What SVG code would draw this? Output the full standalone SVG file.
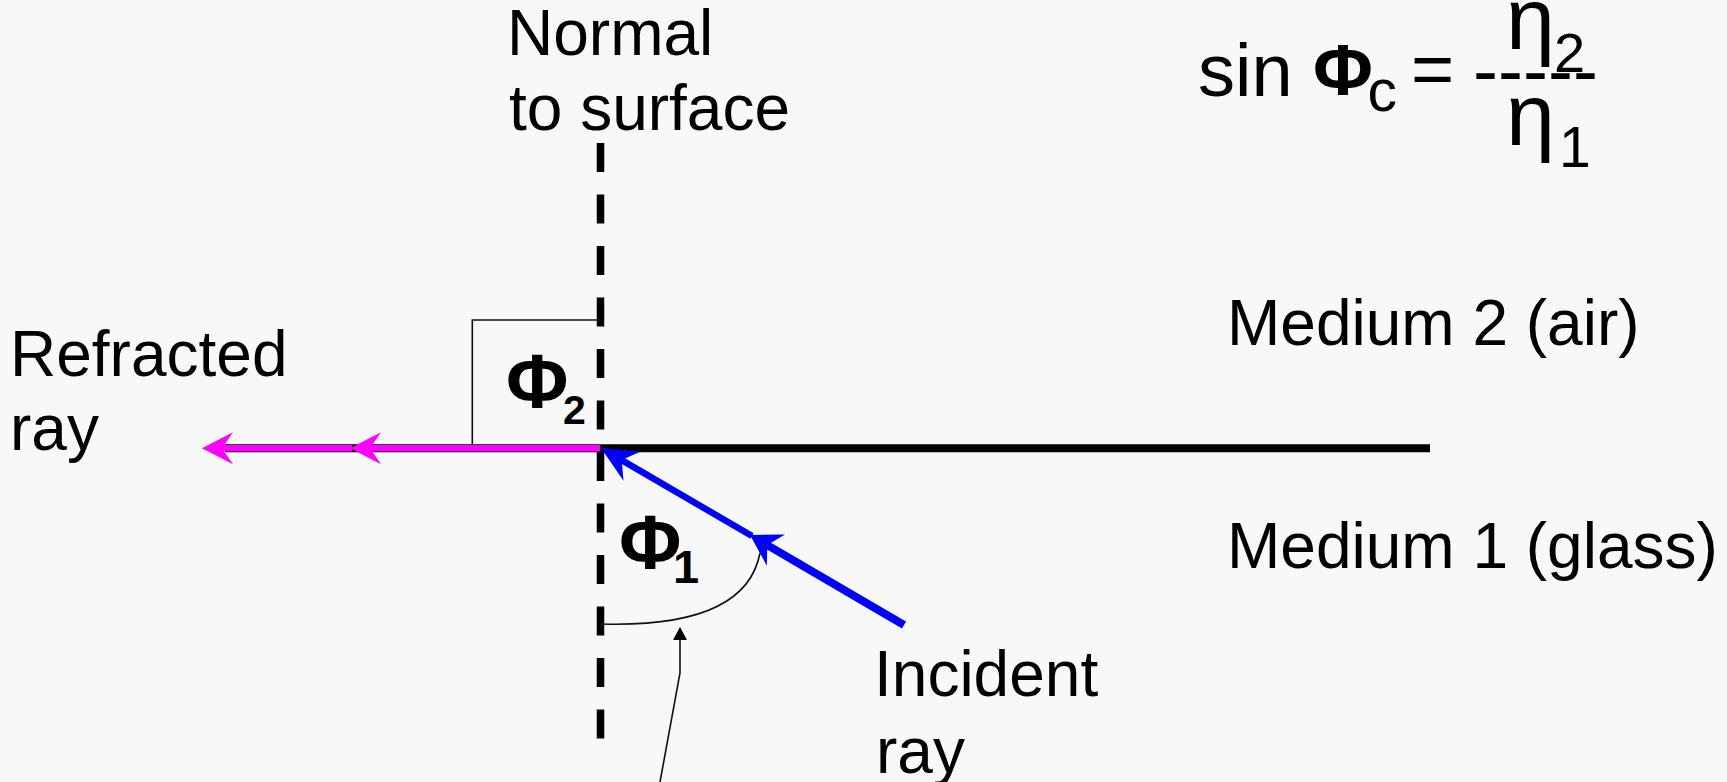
<svg xmlns="http://www.w3.org/2000/svg" width="1727" height="782" viewBox="0 0 1727 782">
<style>
.t{font-family:"Liberation Sans",Arial,sans-serif;fill:#000}
.lbl{font-size:64px}
.b{font-weight:bold}
.thin{fill:none;stroke:#111;stroke-width:1.6}
</style>
<defs>
<marker id="pinkHead" markerUnits="userSpaceOnUse" markerWidth="80" markerHeight="80" refX="0" refY="0" orient="auto" overflow="visible">
<path d="M20,0 L-11,-16 L0,0 L-11,16 Z" fill="#ff00ff"/>
</marker>
<marker id="blueHeadEnd" markerUnits="userSpaceOnUse" markerWidth="80" markerHeight="80" refX="0" refY="0" orient="auto" overflow="visible">
<path d="M24,0 L-12,-17 L0,0 L-12,17 Z" fill="#0000ff"/>
</marker>
<marker id="blueHeadMid" markerUnits="userSpaceOnUse" markerWidth="80" markerHeight="80" refX="0" refY="0" orient="auto" overflow="visible">
<path d="M20,0 L-10,-18 L0,0 L-10,18 Z" fill="#0000ff"/>
</marker>
<marker id="smallHead" markerUnits="userSpaceOnUse" markerWidth="30" markerHeight="30" refX="0" refY="0" orient="auto" overflow="visible">
<path d="M13,0 L0,-7 L0,7 Z" fill="#000"/>
</marker>
</defs>
<rect x="0" y="0" width="1727" height="782" fill="#f8f8f8"/>

<g id="connectors">
<line id="normal-line" x1="600.5" y1="143" x2="600.5" y2="738.5" stroke="#000" stroke-width="7.5" stroke-dasharray="29 22.5"/>
<line id="surface" x1="225" y1="448.3" x2="1430" y2="448.3" stroke="#000" stroke-width="8"/>
<path id="right-angle" class="thin" d="M472.3,448 V320 H600"/>
<path id="refracted-1" d="M600,448.3 H370" stroke="#ff00ff" stroke-width="6.5" fill="none" marker-end="url(#pinkHead)"/>
<path id="refracted-2" d="M352,448.3 H222" stroke="#ff00ff" stroke-width="6.5" fill="none" marker-end="url(#pinkHead)"/>
<path id="incident-1" d="M904,625 L767.3,545.1" stroke="#0000ff" stroke-width="8" fill="none" marker-end="url(#blueHeadMid)"/>
<path id="incident-2" d="M752,536 L621.7,460.1" stroke="#0000ff" stroke-width="6.5" fill="none" marker-end="url(#blueHeadEnd)"/>
<path id="angle-arc" class="thin" d="M601,624 C670,626 748,616 760,553"/>
<path id="pointer" class="thin" d="M660,782 L680,673 V640" marker-end="url(#smallHead)"/>
</g>

<g id="normal-label">
<text class="t lbl" x="507" y="55">Normal</text>
<text class="t lbl" x="509" y="130">to surface</text>
</g>
<g id="refracted-label">
<text class="t lbl" x="10" y="376">Refracted</text>
<text class="t lbl" x="10" y="450">ray</text>
</g>
<g id="incident-label">
<text class="t lbl" x="874" y="696">Incident</text>
<text class="t lbl" x="876" y="773">ray</text>
</g>
<g id="medium2-label">
<text class="t lbl" x="1227" y="345">Medium 2 (air)</text>
</g>
<g id="medium1-label">
<text class="t lbl" x="1227" y="568">Medium 1 (glass)</text>
</g>
<g id="phi2-label">
<text class="t b" x="506" y="408" font-size="76">Φ</text>
<text class="t b" x="563" y="424" font-size="41">2</text>
</g>
<g id="phi1-label">
<text class="t b" x="619" y="569" font-size="76">Φ</text>
<text class="t b" x="673" y="583" font-size="47">1</text>
</g>
<g id="formula">
<text class="t" x="1198" y="96" font-size="74">sin</text>
<text class="t b" x="1313" y="95" font-size="73">Φ</text>
<text class="t" x="1367.5" y="111" font-size="59">c</text>
<text class="t" x="1411" y="94" font-size="74">=</text>
<text class="t" x="1473" y="96" font-size="75">-----</text>
<text class="t" x="1506" y="49" font-size="88">η</text>
<text class="t" x="1554" y="72" font-size="56">2</text>
<text class="t" x="1506" y="145" font-size="88">η</text>
<text class="t" x="1559" y="167" font-size="57">1</text>
</g>
</svg>
